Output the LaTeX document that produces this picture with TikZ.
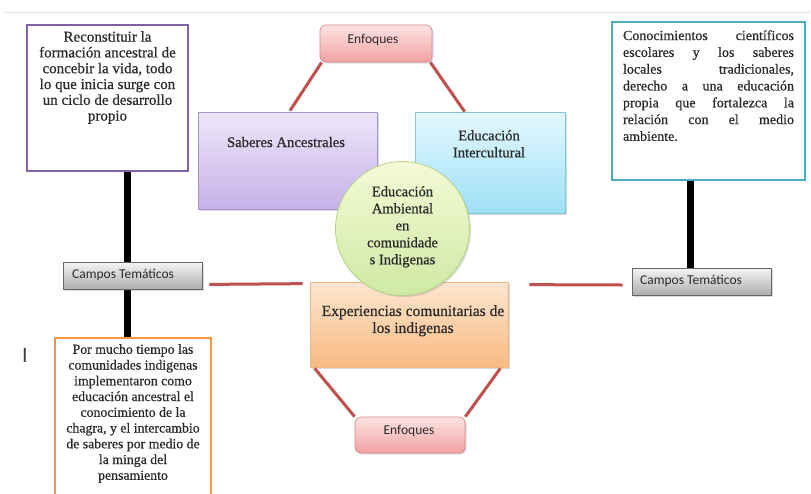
\documentclass[tikz,border=0pt]{standalone}
\usepackage{fontspec}
\setmainfont{Liberation Serif}[FakeBold=0.6]
\newfontfamily\calib{Carlito}
\usetikzlibrary{shadows,calc}
\definecolor{redln}{HTML}{C0504D}
\definecolor{purpb}{HTML}{7F62A8}
\definecolor{tealb}{HTML}{4BACC6}
\definecolor{orngb}{HTML}{F79646}
\definecolor{circtop}{HTML}{F4FAD6}
\definecolor{circbot}{HTML}{CFE9A4}
\definecolor{circln}{HTML}{B5D487}
\definecolor{sabtop}{HTML}{EEE6FA}
\definecolor{sabbot}{HTML}{C6B1E8}
\definecolor{sabln}{HTML}{A795C8}
\definecolor{inttop}{HTML}{E4F8FE}
\definecolor{intbot}{HTML}{9EE0F7}
\definecolor{intln}{HTML}{86C6DC}
\definecolor{exptop}{HTML}{FDE6D0}
\definecolor{expbot}{HTML}{F8BA82}
\definecolor{expln}{HTML}{EFB888}
\definecolor{enftop}{HTML}{FDE3E3}
\definecolor{enfbot}{HTML}{F2A2A2}
\definecolor{enfln}{HTML}{D98A8A}
\definecolor{txt}{HTML}{2A2A2A}
\begin{document}
\begin{tikzpicture}[x=1pt,y=-1pt,
  shd/.style={drop shadow={opacity=0.28,shadow xshift=1.5pt,shadow yshift=-1.5pt}},
  textbox/.style={draw,line width=2.2pt,fill=white,inner sep=0pt},
  enfbox/.style={shd,draw=enfln,line width=0.7pt,rounded corners=6pt,top color=enftop,bottom color=enfbot,inner sep=0pt},
  campbox/.style={shd,draw=black!60,line width=0.8pt,top color=black!4,bottom color=black!32,inner sep=0pt,minimum width=139,minimum height=27},
  bigbox/.style={shd,inner sep=0pt,line width=0.7pt},
  redline/.style={draw=redln,line width=3pt},
  blkline/.style={draw=black,line width=7pt},
  sanslbl/.style={font=\calib\fontsize{13.5}{15}\selectfont,inner sep=0pt,text=txt},
  every node/.append style={text=txt},
]
\useasboundingbox (0,0) rectangle (811,493);
\fill[white] (0,0) rectangle (811,493);
\draw[black!12,line width=0.8pt] (5,12) -- (810,12);

% white text boxes
\node[textbox,draw=purpb,minimum width=161,minimum height=146] (purp) at (107.5,98) {};
\node[textbox,draw=tealb,minimum width=193,minimum height=158] (teal) at (708.5,101) {};
\node[textbox,draw=orngb,minimum width=156,minimum height=162] (orng) at (133,419) {};

\node[font=\fontsize{15}{15.8}\selectfont,align=center,inner sep=0pt,anchor=north] (purpt) at (107.5,31) {Reconstituir la\\formación ancestral de\\concebir la vida, todo\\lo que inicia surge con\\un ciclo de desarrollo\\propio};
\node[font=\fontsize{14}{16.8}\selectfont,align=left,inner sep=0pt,anchor=north] (tealt) at (708.5,30)
 {\makebox[171pt][s]{Conocimientos científicos}\\
  \makebox[171pt][s]{escolares y los saberes}\\
  \makebox[171pt][s]{locales tradicionales,}\\
  \makebox[171pt][s]{derecho a una educación}\\
  \makebox[171pt][s]{propia que fortalezca la}\\
  \makebox[171pt][s]{relación con el medio}\\
  \makebox[171pt][l]{ambiente.}};
\node[font=\fontsize{13.8}{15.75}\selectfont,align=center,inner sep=0pt,anchor=north] (orngt) at (133,344)
 {Por mucho tiempo las\\comunidades indigenas\\implementaron como\\educación ancestral el\\conocimiento de la\\chagra, y el intercambio\\de saberes por medio de\\la minga del\\pensamiento};

% black stems (drawn behind the Campos boxes)
\coordinate (xl) at (127,0);
\coordinate (xr) at (690,0);
\draw[blkline] (purp.south -| xl) -- (orng.north -| xl);
\node[campbox] (campL) at (132.5,275.5) {};
\node[campbox] (campR) at (701.5,281.5) {};
\draw[blkline] (teal.south -| xr) -- (campR.north -| xr);
\node[sanslbl,anchor=west] (campLt) at (72,275) {Campos Temáticos};
\node[sanslbl,anchor=west] (campRt) at (640,281) {Campos Temáticos};

% central cluster
\node[enfbox,minimum width=112,minimum height=37] (enfT) at (376,43.5) {};
\node[sanslbl] (enfTt) at (373,40) {Enfoques};
\node[bigbox,draw=sabln,top color=sabtop,bottom color=sabbot,minimum width=179,minimum height=97] (sab) at (287.5,160.5) {};
\node[font=\fontsize{14.7}{16}\selectfont,inner sep=0pt] (sabt) at (286,142) {Saberes Ancestrales};
\node[bigbox,draw=intln,top color=inttop,bottom color=intbot,minimum width=150,minimum height=101] (int) at (490,162.5) {};
\node[font=\fontsize{14.6}{17}\selectfont,align=center,inner sep=0pt,anchor=north] (intt) at (489,130) {Educación\\Intercultural};
\node[bigbox,draw=expln,top color=exptop,bottom color=expbot,minimum width=198,minimum height=85] (exp) at (409,324.5) {};
\node[font=\fontsize{15.5}{17}\selectfont,align=center,inner sep=0pt,anchor=north] (expt) at (413,305) {Experiencias comunitarias de\\los indigenas};
\node[shd,circle,draw=circln,line width=0.8pt,top color=circtop,bottom color=circbot,minimum size=134,inner sep=0pt] (circ) at (402.5,228.5) {};
\node[font=\fontsize{14.5}{17}\selectfont,align=center,inner sep=0pt,anchor=north] (circt) at (402.5,186) {Educación\\Ambiental\\en\\comunidade\\s Indigenas};
\node[enfbox,minimum width=110,minimum height=36] (enfB) at (410,435) {};
\node[sanslbl] (enfBt) at (409,431) {Enfoques};

% red connectors
\draw[redline] ($(enfT.south west)+(2,0)$) -- ($(sab.north)+(2.5,-1)$);
\draw[redline] ($(enfT.south east)+(-2,0)$) -- ($(int.north west)+(50,0)$);
\draw[redline] ($(exp.south west)+(5,1)$) -- (enfB.north west);
\draw[redline] ($(exp.south east)+(-8,1)$) -- (enfB.north east);
\draw[redline] ($(campL.south east)+(7,-5)$) -- ($(exp.north west)+(-7,2)$);
\draw[redline] ($(exp.north east)+(21,3)$) -- ($(campR.west)+(-9,3.5)$);

% stray mark
\node[font=\calib\fontsize{22}{24}\selectfont,text=black!75,inner sep=0pt] (cur) at (25,355) {I};
\end{tikzpicture}
\end{document}
